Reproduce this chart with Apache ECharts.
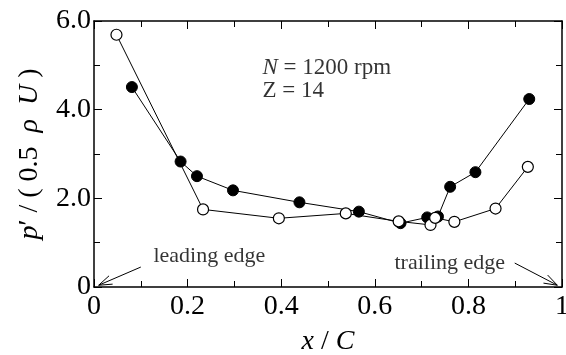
<!DOCTYPE html>
<html>
<head>
<meta charset="utf-8">
<script src="https://cdn.jsdelivr.net/npm/echarts@6/dist/echarts.min.js"></script>
<style>
  html, body { margin: 0; padding: 0; background: #fff; }
  #chart { width: 566px; height: 355px; }
</style>
</head>
<body>
<div id="chart"></div>
<script>
// filled circles
const filledX = [0.081, 0.185, 0.220, 0.297, 0.439, 0.566, 0.655, 0.712, 0.735, 0.761, 0.815, 0.930];
const filledY = [4.51, 2.83, 2.50, 2.18, 1.91, 1.70, 1.44, 1.57, 1.59, 2.26, 2.59, 4.24];
// open circles
const openX = [0.048, 0.233, 0.395, 0.538, 0.651, 0.719, 0.729, 0.770, 0.858, 0.927];
const openY = [5.69, 1.75, 1.55, 1.66, 1.48, 1.40, 1.56, 1.47, 1.77, 2.71];

const xTicks = [0, 0.2, 0.4, 0.6, 0.8, 1];
const yTicks = [0, 2, 4, 6];
const xTickLabels = ['0', '0.2', '0.4', '0.6', '0.8', '1'];
const yTickLabels = ['0', '2.0', '4.0', '6.0'];

// annotation texts and arrows, in data coordinates
const notes = [
  { x: 0.360, y: 4.95, text: '{i|N} = 1200 rpm', size: 23 },
  { x: 0.360, y: 4.43, text: 'Z = 14', size: 23 },
  { x: 0.127, y: 0.70, text: 'leading edge', size: 22 },
  { x: 0.642, y: 0.53, text: 'trailing edge', size: 22 }
];
const arrowFrom = [[0.100, 0.45], [0.899, 0.54]];
const arrowTo = [[0.010, 0.04], [0.990, 0.04]];

const font = '"Liberation Serif", "DejaVu Serif", serif';
const chart = echarts.init(document.getElementById('chart'));

const pair = (xs, ys) => xs.map((x, i) => [x, ys[i]]);
const baseAxis = {
  axisLine: { show: true, onZero: false, lineStyle: { color: '#000', width: 1.5 } },
  axisTick: { show: true, inside: true, length: 8, lineStyle: { color: '#000', width: 1 } },
  minorTick: { show: true, splitNumber: 2, length: 6, lineStyle: { color: '#000', width: 1 } },
  splitLine: { show: false }
};

chart.setOption({
  animation: false,
  backgroundColor: '#fff',
  grid: { left: 94, right: 4, top: 21, bottom: 68, containLabel: false, outerBoundsMode: 'none' },
  xAxis: [
    Object.assign({}, baseAxis, {
      type: 'value', min: 0, max: 1, interval: 0.2, position: 'bottom',
      name: '{i|x} / {i|C}', nameLocation: 'middle', nameGap: 41,
      nameTextStyle: { fontFamily: font, fontSize: 28, color: '#000',
        rich: { i: { fontFamily: font, fontSize: 28, fontStyle: 'italic', color: '#000' } } },
      axisLabel: { fontFamily: font, fontSize: 28, color: '#000', margin: 6,
        formatter: v => xTickLabels[xTicks.findIndex(t => Math.abs(t - v) < 1e-6)] }
    }),
    Object.assign({}, baseAxis, {
      type: 'value', min: 0, max: 1, interval: 0.2, position: 'top',
      axisLabel: { show: false }
    })
  ],
  yAxis: [
    Object.assign({}, baseAxis, {
      type: 'value', min: 0, max: 6, interval: 2, position: 'left',
      name: '{i|p}′ / ( 0.5  {i|ρ}  {i|U} )', nameLocation: 'middle', nameGap: 50, nameRotate: 90,
      nameTextStyle: { fontFamily: font, fontSize: 28, color: '#000',
        rich: { i: { fontFamily: font, fontSize: 28, fontStyle: 'italic', color: '#000' } } },
      axisLabel: { fontFamily: font, fontSize: 28, color: '#000', margin: 3,
        formatter: v => yTickLabels[yTicks.indexOf(v)] }
    }),
    Object.assign({}, baseAxis, {
      type: 'value', min: 0, max: 6, interval: 2, position: 'right',
      axisLabel: { show: false }
    })
  ],
  series: [
    {
      name: 'open', type: 'line', data: pair(openX, openY),
      symbol: 'circle', symbolSize: 11,
      lineStyle: { color: '#000', width: 1 },
      itemStyle: { color: '#fff', borderColor: '#000', borderWidth: 1.2 },
      z: 3
    },
    {
      name: 'filled', type: 'line', data: pair(filledX, filledY),
      symbol: 'circle', symbolSize: 11,
      lineStyle: { color: '#000', width: 1 },
      itemStyle: { color: '#000', borderColor: '#000', borderWidth: 1 },
      z: 2
    },
    {
      name: 'arrows', type: 'custom', silent: true,
      data: arrowFrom.map((f, i) => [f[0], f[1], arrowTo[i][0], arrowTo[i][1]]),
      renderItem: (params, api) => {
        const a = api.coord([api.value(0), api.value(1)]);
        const b = api.coord([api.value(2), api.value(3)]);
        const ang = Math.atan2(b[1] - a[1], b[0] - a[0]);
        const len = 14, spread = 0.33;
        const h1 = [b[0] - len * Math.cos(ang - spread), b[1] - len * Math.sin(ang - spread)];
        const h2 = [b[0] - len * Math.cos(ang + spread), b[1] - len * Math.sin(ang + spread)];
        const st = { stroke: '#000', lineWidth: 1, fill: null };
        return {
          type: 'group',
          children: [
            { type: 'line', shape: { x1: a[0], y1: a[1], x2: b[0], y2: b[1] }, style: st },
            { type: 'polyline', shape: { points: [h1, b, h2] }, style: st }
          ]
        };
      }
    },
    {
      name: 'notes', type: 'scatter', symbolSize: 0, silent: true,
      data: notes.map(n => ({
        value: [n.x, n.y],
        label: {
          show: true, position: 'right', distance: 0,
          formatter: n.text, fontFamily: font, fontSize: n.size, color: '#000',
          rich: { i: { fontFamily: font, fontSize: n.size, fontStyle: 'italic', color: '#000' } }
        }
      }))
    }
  ]
});
</script>
</body>
</html>
